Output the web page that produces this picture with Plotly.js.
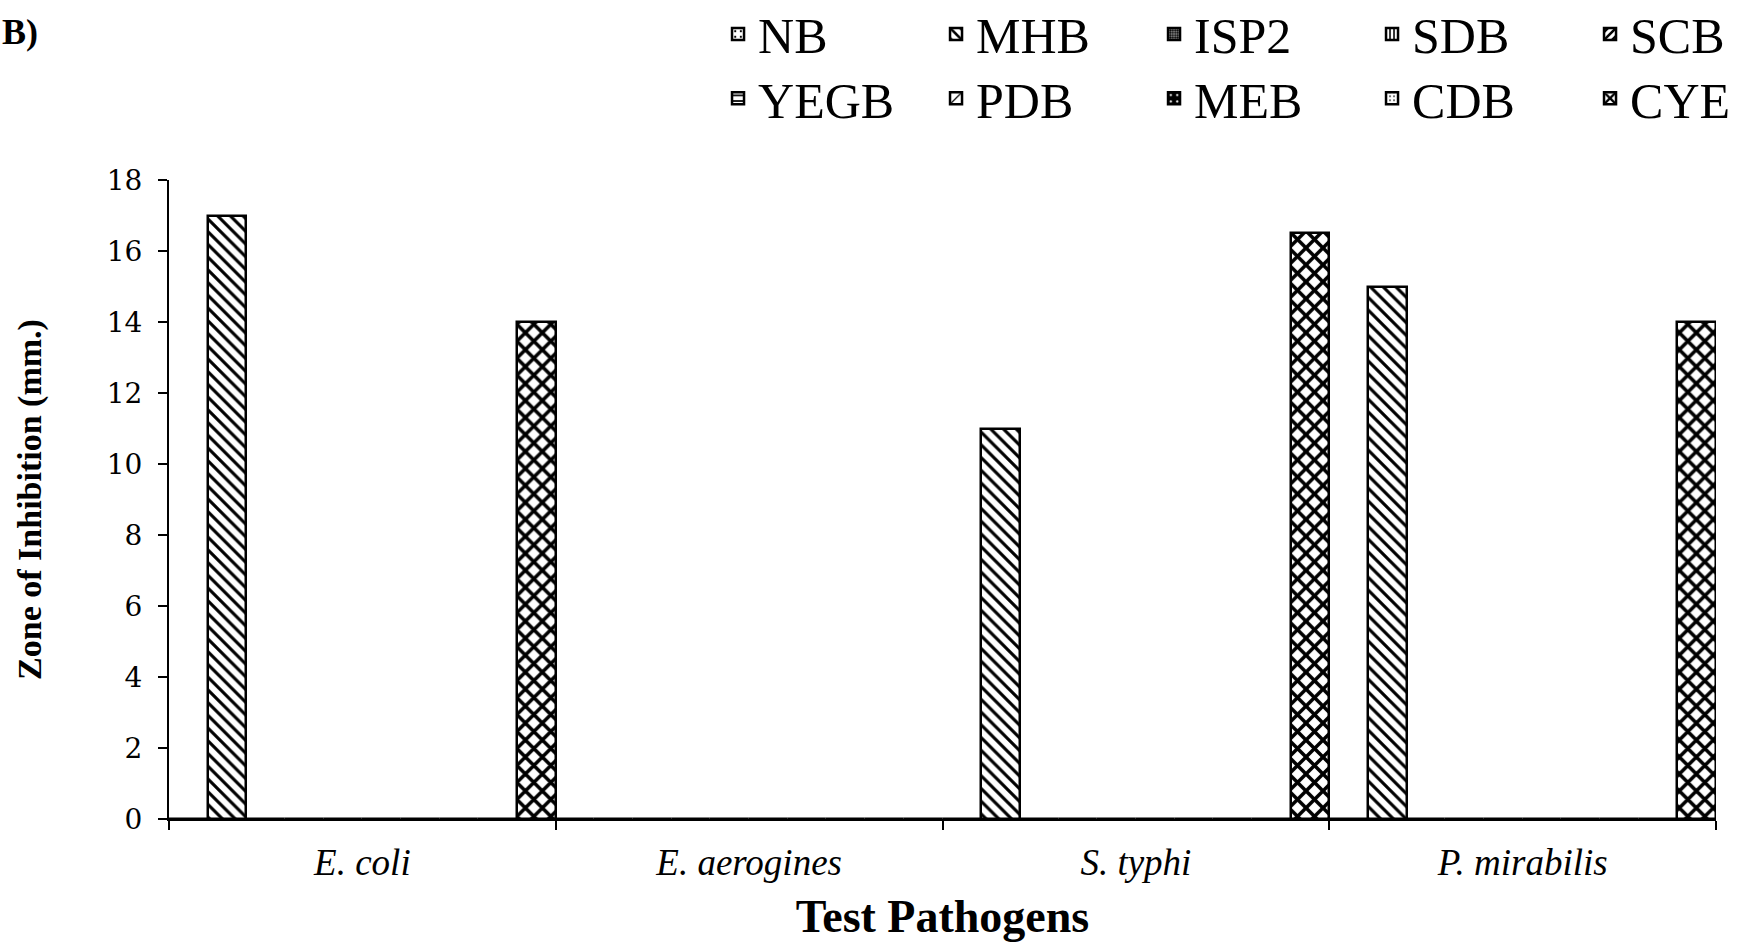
<!DOCTYPE html>
<html>
<head>
<meta charset="utf-8">
<script src="https://cdn.plot.ly/plotly-3.0.1.min.js"></script>
<style>html,body{margin:0;padding:0;background:#fff;}#chart{width:1762px;height:942px;}</style>
</head>
<body>
<div id="chart"></div>
<script>
// Data
var pathogens = ["E. coli", "E. aerogines", "S. typhi", "P. mirabilis"];
var media = ["NB", "MHB", "ISP2", "SDB", "SCB", "YEGB", "PDB", "MEB", "CDB", "CYE"];
var NB   = [0, 0, 0, 0];
var MHB  = [17, 0, 11, 15];
var ISP2 = [0, 0, 0, 0];
var SDB  = [0, 0, 0, 0];
var SCB  = [0, 0, 0, 0];
var YEGB = [0, 0, 0, 0];
var PDB  = [0, 0, 0, 0];
var MEB  = [0, 0, 0, 0];
var CDB  = [0, 0, 0, 0];
var CYE  = [14, 0, 16.5, 14];
var yTickVals = [0, 2, 4, 6, 8, 10, 12, 14, 16, 18];

var seriesValues = [NB, MHB, ISP2, SDB, SCB, YEGB, PDB, MEB, CDB, CYE];
var patterns = [
  {shape: ".", fgcolor: "black", bgcolor: "white", size: 7, solidity: 0.12},
  {shape: "\\", fgcolor: "black", bgcolor: "white", size: 9, solidity: 0.35},
  {shape: ".", fgcolor: "black", bgcolor: "#9a9a9a", size: 3, solidity: 0.5},
  {shape: "|", fgcolor: "black", bgcolor: "white", size: 5, solidity: 0.4},
  {shape: "/", fgcolor: "black", bgcolor: "white", size: 7, solidity: 0.45},
  {shape: "-", fgcolor: "black", bgcolor: "white", size: 7, solidity: 0.3},
  {shape: "/", fgcolor: "black", bgcolor: "white", size: 11, solidity: 0.15},
  {shape: ".", fgcolor: "white", bgcolor: "black", size: 8, solidity: 0.1},
  {shape: ".", fgcolor: "black", bgcolor: "white", size: 5, solidity: 0.15},
  {shape: "x", fgcolor: "black", bgcolor: "white", size: 12, solidity: 0.5}
];

var traces = media.map(function (name, i) {
  return {
    type: "bar",
    name: name,
    x: pathogens,
    y: seriesValues[i],
    legend: i < 5 ? "legend" : "legend2",
    marker: {
      color: "white",
      line: {color: "black", width: 2.5},
      pattern: Object.assign({fillmode: "replace"}, patterns[i])
    },
    hoverinfo: "x+y+name"
  };
});

var serif = "Liberation Serif, Times New Roman, serif";
var legendFont = {family: serif, size: 50, color: "black"};
var legendBase = {
  orientation: "h", xanchor: "left", yanchor: "middle",
  font: legendFont, entrywidth: 173, entrywidthmode: "pixels",
  bgcolor: "rgba(0,0,0,0)", borderwidth: 0, traceorder: "normal", itemclick: false
};
var layout = {
  width: 1762,
  height: 942,
  paper_bgcolor: "white",
  plot_bgcolor: "white",
  font: {family: serif, color: "black"},
  margin: {l: 169, r: 46, t: 180, b: 123, pad: 0, autoexpand: false},
  barmode: "group",
  bargap: 0,
  bargroupgap: 0,
  showlegend: true,
  legend: Object.assign({x: 0.3549, y: 1.2285}, legendBase),
  legend2: Object.assign({x: 0.3549, y: 1.128}, legendBase),
  xaxis: {
    type: "category", automargin: false,
    showline: true, linecolor: "black", linewidth: 2,
    showgrid: false, zeroline: false,
    ticks: "outside", tickson: "boundaries", ticklen: 9, tickwidth: 2, tickcolor: "black",
    ticklabelstandoff: 10,
    tickfont: {family: serif, size: 37, style: "italic", color: "black"},
    title: {text: "Test Pathogens", standoff: 18,
      font: {family: serif, size: 46, weight: "bold", color: "black"}}
  },
  yaxis: {
    range: [0, 18], tickvals: yTickVals, ticktext: yTickVals.map(String), automargin: false,
    showline: true, linecolor: "black", linewidth: 2,
    showgrid: false, zeroline: false,
    ticks: "outside", ticklen: 9, tickwidth: 2, tickcolor: "black",
    ticklabelstandoff: 10,
    tickfont: {family: "DejaVu Serif, serif", size: 28, color: "black"},
    title: {text: "Zone of Inhibition (mm.)", standoff: 55,
      font: {family: serif, size: 34, weight: "bold", color: "black"}}
  },
  annotations: [{
    text: "B)", xref: "paper", yref: "paper", x: -0.1092, xanchor: "left",
    y: 1.232, yanchor: "middle", showarrow: false,
    font: {family: serif, size: 36, weight: "bold", color: "black"}
  }]
};

Plotly.newPlot("chart", traces, layout, {displayModeBar: false});
</script>
</body>
</html>
